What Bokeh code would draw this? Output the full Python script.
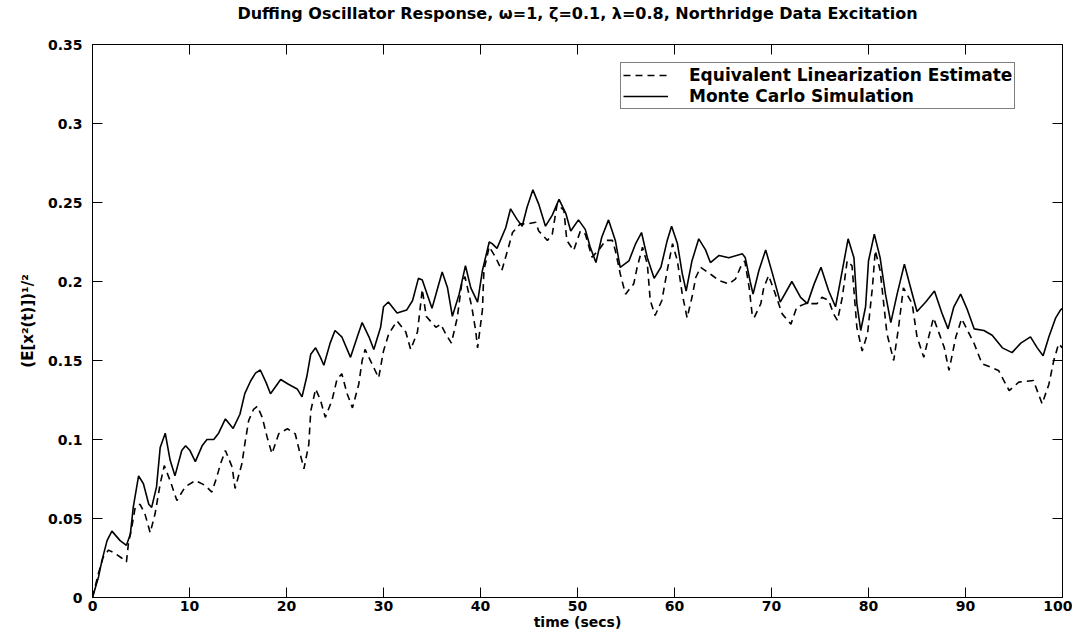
import math
from bokeh.plotting import figure
from bokeh.models import Range1d, FixedTicker, Legend, LegendItem, LinearAxis
from bokeh.embed import file_html
from bokeh.resources import INLINE

# Monte Carlo simulation (solid)
t_mc = [0.0, 0.62, 0.96, 1.5, 2.0, 2.85, 3.5, 3.9, 4.2, 4.75, 5.25, 5.8, 6.1, 6.6, 6.98,
        7.5, 8.0, 8.5, 9.2, 9.6, 10.05, 10.6, 11.3, 11.8, 12.5, 13.0, 13.7, 14.5, 15.2,
        15.7, 16.3, 16.8, 17.3, 17.9, 18.35, 19.4, 20.2, 21.1, 21.6, 22.1, 22.5, 23.0,
        23.5, 23.85, 24.5, 25.0, 25.7, 26.6, 27.3, 27.8, 28.5, 29.0, 29.7, 30.0, 30.5,
        31.4, 32.4, 33.0, 33.6, 34.0, 34.5, 35.0, 35.5, 36.05, 36.6, 37.1, 37.8, 38.45,
        39.0, 39.7, 40.2, 40.9, 41.2, 41.7, 42.6, 43.1, 43.8, 44.3, 44.8, 45.4, 46.0,
        46.7, 47.4, 48.1, 48.8, 49.3, 50.1, 50.8, 51.3, 51.9, 52.5, 53.2, 53.9, 54.4,
        55.3, 56.0, 56.6, 57.2, 57.9, 58.6, 59.25, 59.7, 60.3, 60.8, 61.2, 61.8, 62.5,
        63.2, 63.7, 64.6, 65.6, 67.0, 67.3, 67.8, 68.1, 68.7, 69.4, 70.1, 70.9, 72.1,
        73.0, 73.7, 74.4, 75.1, 75.9, 76.6, 77.3, 77.9, 78.5, 78.8, 79.2, 79.7, 80.0,
        80.6, 81.2, 81.75, 82.3, 82.95, 83.7, 84.3, 85.0, 85.9, 86.8, 87.6, 88.2, 88.8,
        89.5, 90.2, 90.9, 91.9, 92.75, 93.8, 94.8, 95.7, 96.7, 97.4, 98.0, 98.6, 99.3,
        99.8, 100.0]
y_mc = [0.0, 0.013, 0.023, 0.036, 0.042, 0.036, 0.033, 0.040, 0.057, 0.077, 0.072, 0.059,
        0.057, 0.070, 0.095, 0.104, 0.087, 0.077, 0.093, 0.096, 0.093, 0.086, 0.096, 0.100,
        0.100, 0.104, 0.113, 0.107, 0.116, 0.129, 0.137, 0.142, 0.144, 0.136, 0.129, 0.138,
        0.135, 0.132, 0.127, 0.140, 0.154, 0.158, 0.152, 0.147, 0.161, 0.169, 0.165, 0.152,
        0.165, 0.174, 0.165, 0.157, 0.171, 0.184, 0.187, 0.180, 0.182, 0.188, 0.202, 0.201,
        0.192, 0.183, 0.194, 0.206, 0.196, 0.178, 0.192, 0.210, 0.196, 0.187, 0.207, 0.225,
        0.224, 0.221, 0.234, 0.246, 0.239, 0.235, 0.247, 0.258, 0.249, 0.235, 0.242, 0.252,
        0.243, 0.232, 0.239, 0.233, 0.222, 0.212, 0.228, 0.239, 0.226, 0.209, 0.213, 0.224,
        0.231, 0.215, 0.202, 0.209, 0.226, 0.235, 0.224, 0.205, 0.194, 0.213, 0.227, 0.220,
        0.212, 0.2165, 0.215, 0.2175, 0.215, 0.200, 0.192, 0.207, 0.220, 0.205, 0.187, 0.200,
        0.190, 0.186, 0.1985, 0.209, 0.194, 0.184, 0.207, 0.227, 0.215, 0.186, 0.169, 0.184,
        0.213, 0.230, 0.215, 0.192, 0.174, 0.192, 0.211, 0.197, 0.181, 0.187, 0.194, 0.1795,
        0.170, 0.184, 0.192, 0.182, 0.170, 0.169, 0.166, 0.158, 0.155, 0.161, 0.165, 0.158,
        0.153, 0.165, 0.177, 0.182, 0.183]

# Equivalent linearization estimate (dashed)
t_el = [0.0, 0.6, 1.1, 1.65, 2.3, 3.0, 3.5, 3.7, 4.05, 4.4, 4.9, 5.4, 5.95, 6.45, 6.98, 7.4,
        8.0, 8.7, 9.55, 10.6, 11.6, 12.3, 12.8, 13.2, 13.7, 14.4, 14.7, 15.4, 15.7, 16.1,
        16.6, 17.0, 17.5, 18.0, 18.5, 19.2, 20.1, 20.9, 21.4, 21.8, 22.3, 22.5, 23.0, 23.5,
        24.0, 24.7, 25.2, 25.7, 26.25, 26.8, 27.45, 27.8, 28.1, 28.8, 29.5, 30.0, 30.55,
        31.4, 32.3, 32.8, 33.5, 34.0, 34.4, 35.4, 35.9, 36.4, 37.0, 37.6, 38.1, 38.4, 39.1,
        39.5, 39.7, 40.2, 40.35, 40.9, 41.55, 42.2, 42.9, 43.3, 44.1, 44.8, 45.7, 46.0,
        46.9, 47.4, 47.9, 48.6, 48.9, 49.6, 50.3, 50.8, 51.5, 52.2, 52.9, 53.6, 53.9, 54.4,
        54.95, 55.8, 56.15, 56.7, 57.2, 57.5, 58.0, 58.7, 59.25, 59.8, 60.3, 60.8, 61.3,
        61.8, 62.2, 62.7, 63.9, 64.6, 65.6, 66.3, 66.8, 67.25, 67.7, 68.0, 68.2, 68.9, 69.2,
        69.7, 70.4, 71.1, 72.0, 72.6, 73.5, 74.7, 75.2, 75.9, 76.4, 76.8, 77.3, 77.8, 78.3,
        78.8, 79.35, 79.9, 80.4, 80.7, 81.2, 81.9, 82.6, 83.1, 83.6, 84.5, 85.0, 85.7,
        86.2, 86.7, 87.8, 88.3, 89.0, 89.6, 90.9, 91.7, 93.4, 94.5, 95.5, 97.0, 97.9, 98.6,
        99.1, 99.6, 100.0]
y_el = [0.0, 0.015, 0.0255, 0.030, 0.028, 0.025, 0.0225, 0.034, 0.0445, 0.057, 0.059, 0.053,
        0.041, 0.053, 0.072, 0.0835, 0.074, 0.0614, 0.070, 0.074, 0.071, 0.0667, 0.076,
        0.0846, 0.093, 0.0825, 0.069, 0.0846, 0.097, 0.112, 0.119, 0.121, 0.114, 0.1015,
        0.091, 0.1036, 0.1068, 0.1036, 0.091, 0.0815, 0.097, 0.118, 0.132, 0.125, 0.114,
        0.125, 0.138, 0.1416, 0.129, 0.120, 0.135, 0.150, 0.157, 0.148, 0.139, 0.156, 0.167,
        0.175, 0.168, 0.157, 0.168, 0.195, 0.178, 0.171, 0.173, 0.167, 0.161, 0.177, 0.200,
        0.203, 0.184, 0.169, 0.158, 0.182, 0.207, 0.222, 0.2154, 0.207, 0.222, 0.231,
        0.2365, 0.2365, 0.2375, 0.232, 0.226, 0.230, 0.249, 0.245, 0.226, 0.2196, 0.232,
        0.230, 0.2154, 0.220, 0.226, 0.226, 0.2196, 0.205, 0.192, 0.1985, 0.209, 0.2217,
        0.211, 0.188, 0.1785, 0.188, 0.207, 0.2239, 0.213, 0.192, 0.177, 0.190, 0.2027,
        0.209, 0.2038, 0.2006, 0.1985, 0.2017, 0.209, 0.213, 0.196, 0.1795, 0.177, 0.186,
        0.196, 0.2038, 0.192, 0.1795, 0.173, 0.1837, 0.186, 0.186, 0.190, 0.188, 0.1795,
        0.1753, 0.190, 0.213, 0.210, 0.171, 0.156, 0.167, 0.196, 0.2196, 0.207, 0.167,
        0.150, 0.171, 0.196, 0.186, 0.165, 0.152, 0.1648, 0.177, 0.1584, 0.1437, 0.1648,
        0.1764, 0.1606, 0.148, 0.1437, 0.131, 0.1363, 0.1373, 0.1226, 0.135, 0.150, 0.1606,
        0.158]

x_ticks = [0, 10, 20, 30, 40, 50, 60, 70, 80, 90, 100]
y_ticks = [0, 0.05, 0.1, 0.15, 0.2, 0.25, 0.3, 0.35]
y_tick_labels = ["0", "0.05", "0.1", "0.15", "0.2", "0.25", "0.3", "0.35"]

title_text = "Duffing Oscillator Response, \u03c9=1, \u03b6=0.1, \u03bb=0.8, Northridge Data Excitation"
x_label = "time (secs)"
y_label = "(E[x\u00b2(t)])\u00b9/\u00b2"
legend_labels = ["Equivalent Linearization Estimate", "Monte Carlo Simulation"]

FONT = "DejaVu Sans"

p = figure(width=1072, height=634,
           x_range=Range1d(x_ticks[0], x_ticks[-1]), y_range=Range1d(y_ticks[0], y_ticks[-1]),
           output_backend="svg", toolbar_location=None,
           min_border_left=92, min_border_right=10, min_border_top=44, min_border_bottom=37)
p.background_fill_color = "white"
p.border_fill_color = "white"
p.xgrid.visible = False
p.ygrid.visible = False
p.outline_line_color = "black"
p.outline_line_width = 1


def style_axis(ax, ticks):
    ax.ticker = FixedTicker(ticks=ticks)
    ax.major_tick_in = 10
    ax.major_tick_out = 0
    ax.minor_tick_in = 0
    ax.minor_tick_out = 0
    ax.axis_line_color = "black"
    ax.major_tick_line_color = "black"
    ax.major_label_text_font = FONT
    ax.major_label_text_font_style = "bold"
    ax.major_label_text_color = "black"
    ax.major_label_text_font_size = "14px"
    ax.axis_label_text_font = FONT
    ax.axis_label_text_font_style = "bold"
    ax.axis_label_text_color = "black"
    ax.axis_label_text_font_size = "14px"


xa = p.xaxis[0]
style_axis(xa, x_ticks)
xa.axis_label = x_label
xa.major_label_standoff = 3
xa.axis_label_standoff = 0

ya = p.yaxis[0]
style_axis(ya, y_ticks)
ya.axis_label = y_label
ya.axis_label_text_font_size = "15px"
ya.major_label_overrides = {t: s for t, s in zip(y_ticks, y_tick_labels)}
ya.major_label_standoff = 10
ya.axis_label_standoff = 8

# top edge: an axis without ticks that carries the title as its label
top = LinearAxis()
style_axis(top, [])
top.axis_label = title_text
top.axis_label_text_font_size = "16px"
top.axis_label_standoff = 22
p.add_layout(top, "above")

# inward tick marks on the top and right edges of the box
p.ray(x=x_ticks, y=[y_ticks[-1]] * len(x_ticks), length=10, length_units="screen",
      angle=-math.pi / 2, line_color="black", line_width=1)
p.ray(x=[x_ticks[-1]] * len(y_ticks), y=y_ticks, length=10, length_units="screen",
      angle=math.pi, line_color="black", line_width=1)

r_el = p.line(t_el, y_el, line_color="black", line_width=1.6, line_dash="7 5")
r_mc = p.line(t_mc, y_mc, line_color="black", line_width=1.6)

legend = Legend(items=[LegendItem(label=legend_labels[0], renderers=[r_el]),
                       LegendItem(label=legend_labels[1], renderers=[r_mc])],
                location=(528, 488), margin=0, padding=2, spacing=1,
                glyph_width=45, glyph_height=18, label_height=18, label_standoff=21,
                label_text_font=FONT, label_text_font_style="bold",
                label_text_font_size="17px", label_text_color="black",
                border_line_color="black", border_line_width=1,
                background_fill_color="white", background_fill_alpha=1.0)
p.add_layout(legend)

open("out.html", "w").write(file_html(p, INLINE))
